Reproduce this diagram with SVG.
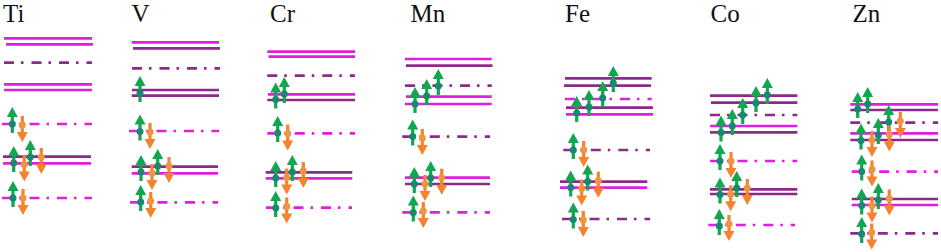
<svg xmlns="http://www.w3.org/2000/svg" width="941" height="252" viewBox="0 0 941 252">
<style>
.lbl{font-family:"Liberation Serif","Times New Roman",serif;font-size:25px;fill:#111}
.m{stroke:#e01ee0;stroke-width:2.7;fill:none}
.p{stroke:#8c2a8c;stroke-width:2.7;fill:none}
.dd{stroke-dasharray:10 7 2.5 8}
</style>
<defs>
<g id="up">
<rect x="-1.6" y="-8" width="3.2" height="17" fill="#12a650"/>
<polygon points="0,-17 5.5,-7 -5.5,-7" fill="#12a650"/>
<circle cx="0" cy="0" r="3.5" fill="#168a6e"/>
</g>
<g id="dn">
<rect x="-1.6" y="-9" width="3.2" height="17" fill="#f5822f"/>
<polygon points="0,17 5.5,7 -5.5,7" fill="#f5822f"/>
<circle cx="0" cy="0" r="3.5" fill="#f0953f"/>
</g>
</defs>
<rect width="941" height="252" fill="#fff"/>

<g id="Ti">
<text class="lbl" x="3" y="22">Ti</text>
<g id="Ti-levels">
<line class="m" x1="4" y1="38.3" x2="92" y2="38.3"/>
<line class="m" x1="6" y1="44.3" x2="93" y2="44.3"/>
<line class="p dd" x1="4" y1="62.7" x2="92" y2="62.7"/>
<line class="m" x1="4" y1="84.3" x2="92" y2="84.3"/>
<line class="m" x1="4" y1="90" x2="92" y2="90"/>
<line class="m dd" x1="2" y1="124" x2="92" y2="124"/>
<line class="p" x1="3" y1="156.7" x2="91" y2="156.7"/>
<line class="m" x1="3" y1="163.3" x2="91" y2="163.3"/>
<line class="m dd" x1="2" y1="198" x2="92" y2="198"/>
</g>
<g id="Ti-spins">
<use href="#up" x="12.3" y="124"/><use href="#dn" x="22.3" y="125"/>
<use href="#up" x="13.7" y="163"/><use href="#dn" x="24.3" y="164.5"/>
<use href="#up" x="30.3" y="157"/><use href="#dn" x="41.3" y="157"/>
<use href="#up" x="13" y="198"/><use href="#dn" x="23" y="198"/>
</g>
</g>

<g id="V">
<text class="lbl" x="131.5" y="22">V</text>
<g id="V-levels">
<line class="m" x1="131.7" y1="42.3" x2="219" y2="42.3"/>
<line class="p" x1="133" y1="48.3" x2="220" y2="48.3"/>
<line class="p dd" x1="132" y1="68.3" x2="220" y2="68.3"/>
<line class="p" x1="132" y1="90" x2="219" y2="90"/>
<line class="p" x1="131.7" y1="95.7" x2="219" y2="95.7"/>
<line class="m dd" x1="129" y1="131" x2="219" y2="131"/>
<line class="p" x1="131.7" y1="166.7" x2="218" y2="166.7"/>
<line class="m" x1="131.7" y1="173.3" x2="218" y2="173.3"/>
<line class="m dd" x1="130" y1="202.3" x2="218" y2="202.3"/>
</g>
<g id="V-spins">
<use href="#up" x="140" y="93"/>
<use href="#up" x="140" y="131.5"/><use href="#dn" x="150" y="132"/>
<use href="#up" x="141" y="172"/><use href="#dn" x="152" y="173"/>
<use href="#up" x="157.7" y="166"/><use href="#dn" x="169" y="166"/>
<use href="#up" x="140.7" y="202"/><use href="#dn" x="150.7" y="201"/>
</g>
</g>

<g id="Cr">
<text class="lbl" x="270" y="22">Cr</text>
<g id="Cr-levels">
<line class="m" x1="267.3" y1="51.7" x2="355" y2="51.7"/>
<line class="m" x1="268.5" y1="56.7" x2="355" y2="56.7"/>
<line class="p dd" x1="267.3" y1="75.7" x2="355" y2="75.7"/>
<line class="m" x1="268" y1="94.3" x2="355" y2="94.3"/>
<line class="p" x1="267.3" y1="100" x2="355" y2="100"/>
<line class="m dd" x1="267.3" y1="133.3" x2="355" y2="133.3"/>
<line class="p" x1="265.7" y1="172.3" x2="352.3" y2="172.3"/>
<line class="m" x1="265.7" y1="178.3" x2="352.3" y2="178.3"/>
<line class="m dd" x1="266" y1="207.7" x2="352" y2="207.7"/>
</g>
<g id="Cr-spins">
<use href="#up" x="275.7" y="99.5"/><use href="#up" x="284.3" y="94"/>
<use href="#up" x="277.7" y="133"/><use href="#dn" x="287.7" y="133.5"/>
<use href="#up" x="275.7" y="178"/><use href="#dn" x="286.7" y="177.5"/>
<use href="#up" x="292.3" y="172"/><use href="#dn" x="303.3" y="171"/>
<use href="#up" x="275.7" y="208"/><use href="#dn" x="286.7" y="206.5"/>
</g>
</g>

<g id="Mn">
<text class="lbl" x="410.5" y="22">Mn</text>
<g id="Mn-levels">
<line class="m" x1="405" y1="59" x2="491.7" y2="59"/>
<line class="p" x1="406" y1="65.7" x2="492.5" y2="65.7"/>
<line class="p dd" x1="405" y1="85.7" x2="491.7" y2="85.7"/>
<line class="m" x1="406" y1="96.7" x2="491.7" y2="96.7"/>
<line class="m" x1="405" y1="104" x2="491.7" y2="104"/>
<line class="p dd" x1="402.3" y1="136.7" x2="490" y2="136.7"/>
<line class="m" x1="405" y1="177.7" x2="490" y2="177.7"/>
<line class="p" x1="405" y1="184" x2="490" y2="184"/>
<line class="m dd" x1="402.3" y1="212.3" x2="490" y2="212.3"/>
</g>
<g id="Mn-spins">
<use href="#up" x="438.3" y="86"/>
<use href="#up" x="415" y="104"/><use href="#up" x="426.7" y="96"/>
<use href="#up" x="412.7" y="136.5"/><use href="#dn" x="422.3" y="138"/>
<use href="#up" x="414.3" y="184"/><use href="#dn" x="425" y="184"/>
<use href="#up" x="430.7" y="178"/><use href="#dn" x="441.7" y="177.7"/>
<use href="#up" x="413.3" y="212.5"/><use href="#dn" x="423.3" y="211"/>
</g>
</g>

<g id="Fe">
<text class="lbl" x="565" y="22">Fe</text>
<g id="Fe-levels">
<line class="p" x1="565" y1="78.3" x2="651.7" y2="78.3"/>
<line class="p" x1="564" y1="85.7" x2="651" y2="85.7"/>
<line class="m dd" x1="565" y1="99" x2="651.7" y2="99"/>
<line class="p" x1="566" y1="107.7" x2="653" y2="107.7"/>
<line class="m" x1="566" y1="114.3" x2="653" y2="114.3"/>
<line class="p dd" x1="563.3" y1="150" x2="650" y2="150"/>
<line class="p" x1="560" y1="181.7" x2="647.3" y2="181.7"/>
<line class="m" x1="560" y1="187.7" x2="647.3" y2="187.7"/>
<line class="p dd" x1="562" y1="219" x2="650" y2="219"/>
</g>
<g id="Fe-spins">
<use href="#up" x="613.3" y="83"/>
<use href="#up" x="602.7" y="98"/>
<use href="#up" x="576.7" y="113"/><use href="#up" x="589" y="107"/>
<use href="#up" x="573.3" y="150"/><use href="#dn" x="583.7" y="150"/>
<use href="#up" x="570.7" y="187.5"/><use href="#dn" x="581.7" y="188.5"/>
<use href="#up" x="587.7" y="181.5"/><use href="#dn" x="598.3" y="180.7"/>
<use href="#up" x="573.3" y="219.5"/><use href="#dn" x="583.3" y="220"/>
</g>
</g>

<g id="Co">
<text class="lbl" x="710.5" y="22">Co</text>
<g id="Co-levels">
<line class="p" x1="710" y1="95.7" x2="797.3" y2="95.7"/>
<line class="p" x1="711" y1="102.7" x2="797.3" y2="102.7"/>
<line class="p dd" x1="710" y1="115" x2="797.3" y2="115"/>
<line class="m" x1="710" y1="126" x2="797.3" y2="126"/>
<line class="p" x1="710" y1="132.3" x2="797.3" y2="132.3"/>
<line class="m dd" x1="710" y1="161" x2="797.3" y2="161"/>
<line class="p" x1="710" y1="189.3" x2="797.3" y2="189.3"/>
<line class="p" x1="710" y1="194" x2="797.3" y2="194"/>
<line class="m dd" x1="708.3" y1="225" x2="795" y2="225"/>
</g>
<g id="Co-spins">
<use href="#up" x="767.3" y="95"/><use href="#up" x="756" y="103"/>
<use href="#up" x="742.7" y="115"/>
<use href="#up" x="721" y="132.5"/><use href="#up" x="732.3" y="126"/>
<use href="#up" x="720" y="161"/><use href="#dn" x="731" y="161"/>
<use href="#up" x="720" y="194.5"/><use href="#dn" x="730.7" y="194.3"/>
<use href="#up" x="736.7" y="188"/><use href="#dn" x="747.3" y="188"/>
<use href="#up" x="719.3" y="226"/><use href="#dn" x="729" y="224"/>
</g>
</g>

<g id="Zn">
<text class="lbl" x="852.5" y="22">Zn</text>
<g id="Zn-levels">
<line class="m" x1="850.3" y1="104.3" x2="938" y2="104.3"/>
<line class="p" x1="850.3" y1="110" x2="938" y2="110"/>
<line class="p dd" x1="850.3" y1="122.7" x2="938" y2="122.7"/>
<line class="m" x1="850.3" y1="133.3" x2="938" y2="133.3"/>
<line class="p" x1="850.3" y1="140" x2="938" y2="140"/>
<line class="m dd" x1="851.7" y1="171.7" x2="938" y2="171.7"/>
<line class="p" x1="851.7" y1="199" x2="938" y2="199"/>
<line class="m" x1="851.7" y1="205" x2="938" y2="205"/>
<line class="p dd" x1="850.3" y1="233.3" x2="938" y2="233.3"/>
</g>
<g id="Zn-spins">
<use href="#up" x="857.7" y="109"/><use href="#up" x="867.7" y="104"/>
<use href="#up" x="888.7" y="122"/><use href="#dn" x="900.3" y="121"/>
<use href="#up" x="861" y="140.5"/><use href="#dn" x="872" y="140"/>
<use href="#up" x="878.3" y="135"/><use href="#dn" x="889.3" y="134.5"/>
<use href="#up" x="861.7" y="171.5"/><use href="#dn" x="872" y="169.5"/>
<use href="#up" x="861.7" y="205.5"/><use href="#dn" x="872" y="205.5"/>
<use href="#up" x="878.3" y="200"/><use href="#dn" x="889.3" y="198.5"/>
<use href="#up" x="861.7" y="234"/><use href="#dn" x="871.7" y="232.5"/>
</g>
</g>

<g id="connectors"></g>
</svg>
